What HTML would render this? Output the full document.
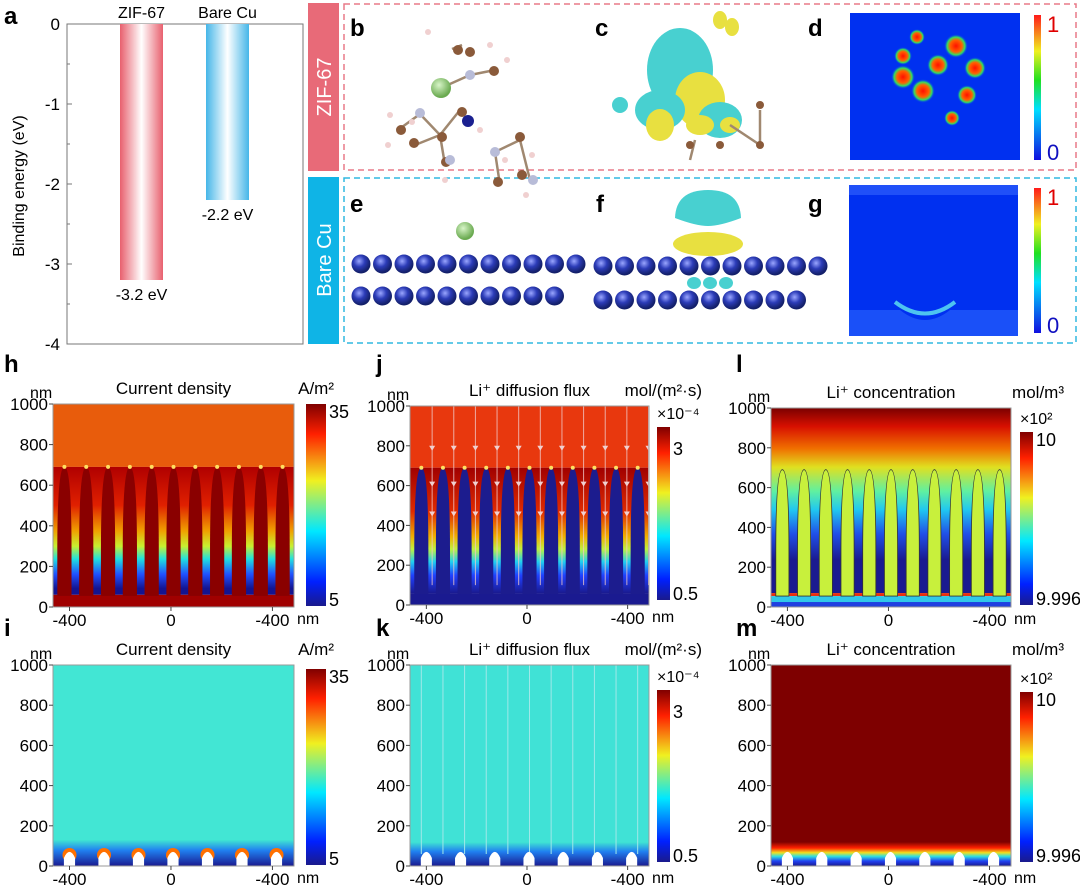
<!DOCTYPE html>
<html><head><meta charset="utf-8">
<style>
body{margin:0;background:#fff;}
svg{display:block;font-family:"Liberation Sans",Arial,sans-serif;}
</style></head>
<body>
<svg id="fig" width="1080" height="888" viewBox="0 0 1080 888" xmlns="http://www.w3.org/2000/svg">
<defs>
<linearGradient id="gRed" x1="0" x2="1" y1="0" y2="0"><stop offset="0" stop-color="#e8606e"/><stop offset="0.5" stop-color="#ffffff"/><stop offset="1" stop-color="#e8606e"/></linearGradient>
<linearGradient id="gBlue" x1="0" x2="1" y1="0" y2="0"><stop offset="0" stop-color="#45b6e8"/><stop offset="0.5" stop-color="#ffffff"/><stop offset="1" stop-color="#45b6e8"/></linearGradient>
<linearGradient id="jet" x1="0" x2="0" y1="1" y2="0"><stop offset="0" stop-color="#1a1a8c"/><stop offset="0.12" stop-color="#0020ff"/><stop offset="0.37" stop-color="#00e8ff"/><stop offset="0.62" stop-color="#f0f020"/><stop offset="0.85" stop-color="#ff2000"/><stop offset="1" stop-color="#800000"/></linearGradient>
<linearGradient id="jetd" x1="0" x2="0" y1="1" y2="0"><stop offset="0" stop-color="#1010e0"/><stop offset="0.35" stop-color="#00e0ff"/><stop offset="0.55" stop-color="#20e020"/><stop offset="0.75" stop-color="#f0f020"/><stop offset="1" stop-color="#ff1a1a"/></linearGradient>
<linearGradient id="hG" x1="0" x2="0" y1="0" y2="1"><stop offset="0" stop-color="#b00000"/><stop offset="0.3" stop-color="#e02000"/><stop offset="0.5" stop-color="#f0a000"/><stop offset="0.62" stop-color="#c8f030"/><stop offset="0.72" stop-color="#20e0e0"/><stop offset="0.84" stop-color="#2050ff"/><stop offset="0.95" stop-color="#141490"/><stop offset="1" stop-color="#141490"/></linearGradient>
<linearGradient id="jG" x1="0" x2="0" y1="0" y2="1"><stop offset="0" stop-color="#a00000"/><stop offset="0.35" stop-color="#e02a00"/><stop offset="0.55" stop-color="#f0b000"/><stop offset="0.65" stop-color="#c0f040"/><stop offset="0.75" stop-color="#20d0f0"/><stop offset="0.86" stop-color="#2040ff"/><stop offset="1" stop-color="#1a1a90"/></linearGradient>
<linearGradient id="lG" x1="0" x2="0" y1="0" y2="1"><stop offset="0" stop-color="#7a0000"/><stop offset="0.1" stop-color="#d81000"/><stop offset="0.22" stop-color="#f07000"/><stop offset="0.32" stop-color="#e0e020"/><stop offset="0.45" stop-color="#60f0a0"/><stop offset="0.55" stop-color="#20c8f0"/><stop offset="0.68" stop-color="#2050e8"/><stop offset="0.82" stop-color="#1a1a90"/><stop offset="1" stop-color="#1a1a90"/></linearGradient>
<linearGradient id="iG" x1="0" x2="0" y1="0" y2="1"><stop offset="0" stop-color="#40e6d2"/><stop offset="0.4" stop-color="#2080f0"/><stop offset="1" stop-color="#1a1a90"/></linearGradient>
<linearGradient id="mG" x1="0" x2="0" y1="0" y2="1"><stop offset="0" stop-color="#7a0000"/><stop offset="0.25" stop-color="#ff2000"/><stop offset="0.45" stop-color="#f0e020"/><stop offset="0.6" stop-color="#30e0e0"/><stop offset="0.8" stop-color="#2040f0"/><stop offset="1" stop-color="#1a1a90"/></linearGradient>
<radialGradient id="ball" cx="0.4" cy="0.35" r="0.6"><stop offset="0" stop-color="#9aa6ff"/><stop offset="0.5" stop-color="#2c3cb8"/><stop offset="1" stop-color="#14206a"/></radialGradient>
<radialGradient id="liB" cx="0.4" cy="0.35" r="0.6"><stop offset="0" stop-color="#d8f5c8"/><stop offset="1" stop-color="#6aaa50"/></radialGradient>
<radialGradient id="hot" cx="0.5" cy="0.5" r="0.5"><stop offset="0" stop-color="#ff1000"/><stop offset="0.5" stop-color="#ff6000"/><stop offset="0.75" stop-color="#30e060"/><stop offset="1" stop-color="#0030ff" stop-opacity="0"/></radialGradient>
</defs>

<g id="panelA">
<text x="4" y="24" font-size="24" font-weight="bold">a</text>
<rect x="67" y="24" width="236" height="320" fill="none" stroke="#777" stroke-width="1"/>
<text transform="translate(24,186) rotate(-90)" text-anchor="middle" font-size="16">Binding energy (eV)</text>
</g>

<rect x="308" y="3" width="31" height="168" fill="#e86a78"/>
<text transform="translate(331,87) rotate(-90)" text-anchor="middle" font-size="20" fill="#fff">ZIF-67</text>
<rect x="308" y="177" width="31" height="167" fill="#0fb4e6"/>
<text transform="translate(331,260) rotate(-90)" text-anchor="middle" font-size="20" fill="#fff">Bare Cu</text>
<rect x="344" y="4" width="732" height="166" fill="none" stroke="#e87a88" stroke-width="1.5" stroke-dasharray="6,4"/>
<rect x="344" y="178" width="732" height="165" fill="none" stroke="#30b8e0" stroke-width="1.5" stroke-dasharray="6,4"/>

<g>
<text x="350" y="36" font-size="24" font-weight="bold">b</text>
<g stroke="#a08870" stroke-width="2.5">
<line x1="441" y1="88" x2="470" y2="75"/><line x1="470" y1="75" x2="495" y2="70"/><line x1="420" y1="114" x2="398" y2="130"/><line x1="420" y1="114" x2="440" y2="135"/><line x1="440" y1="135" x2="460" y2="110"/><line x1="440" y1="135" x2="445" y2="165"/><line x1="495" y1="152" x2="520" y2="140"/><line x1="495" y1="152" x2="500" y2="185"/><line x1="520" y1="140" x2="530" y2="180"/><line x1="452" y1="49" x2="462" y2="45"/><line x1="440" y1="135" x2="415" y2="145"/>
</g>
<circle cx="441" cy="88" r="10" fill="url(#liB)"/>
<g fill="#8a5a3a"><circle cx="458" cy="50" r="5"/><circle cx="494" cy="71" r="5"/><circle cx="401" cy="130" r="5"/><circle cx="414" cy="143" r="5"/><circle cx="442" cy="137" r="5"/><circle cx="462" cy="112" r="5"/><circle cx="446" cy="162" r="5"/><circle cx="520" cy="137" r="5"/><circle cx="498" cy="182" r="5"/><circle cx="522" cy="175" r="5"/><circle cx="470" cy="52" r="5"/></g>
<g fill="#b8bcd8"><circle cx="470" cy="75" r="5"/><circle cx="420" cy="113" r="5"/><circle cx="495" cy="152" r="5"/><circle cx="533" cy="180" r="5"/><circle cx="450" cy="160" r="5"/></g>
<circle cx="468" cy="121" r="6" fill="#1a2090"/>
<g fill="#f0d0d0"><circle cx="428" cy="32" r="3"/><circle cx="490" cy="45" r="3"/><circle cx="507" cy="60" r="3"/><circle cx="390" cy="115" r="3"/><circle cx="388" cy="145" r="3"/><circle cx="505" cy="160" r="3"/><circle cx="445" cy="180" r="3"/><circle cx="532" cy="155" r="3"/><circle cx="526" cy="195" r="3"/><circle cx="480" cy="130" r="3"/><circle cx="412" cy="122" r="3"/></g>
</g>

<g>
<text x="595" y="36" font-size="24" font-weight="bold">c</text>
<ellipse cx="680" cy="70" rx="33" ry="42" fill="#48d0d0"/>
<ellipse cx="700" cy="100" rx="25" ry="28" fill="#e8e040"/>
<ellipse cx="660" cy="110" rx="25" ry="20" fill="#48d0d0"/>
<ellipse cx="720" cy="120" rx="22" ry="18" fill="#48d0d0"/>
<ellipse cx="720" cy="20" rx="7" ry="9" fill="#e8e040"/>
<ellipse cx="732" cy="27" rx="7" ry="9" fill="#e8e040"/>
<ellipse cx="660" cy="125" rx="14" ry="16" fill="#e8e040"/>
<ellipse cx="700" cy="125" rx="14" ry="10" fill="#e8e040"/>
<ellipse cx="730" cy="125" rx="10" ry="8" fill="#e8e040"/>
<ellipse cx="620" cy="105" rx="8" ry="8" fill="#48d0d0"/>
<g stroke="#a08870" stroke-width="2.5"><line x1="730" y1="125" x2="760" y2="145"/><line x1="760" y1="145" x2="760" y2="110"/><line x1="695" y1="140" x2="690" y2="160"/></g>
<g fill="#8a5a3a"><circle cx="760" cy="145" r="4"/><circle cx="760" cy="105" r="4"/><circle cx="690" cy="145" r="4"/><circle cx="720" cy="145" r="4"/></g>
</g>

<g>
<text x="808" y="36" font-size="24" font-weight="bold">d</text>
<rect x="850" y="13" width="170" height="147" fill="#0030f0"/>
<g fill="url(#hot)"><circle cx="917" cy="37" r="8"/><circle cx="956" cy="46" r="12"/><circle cx="903" cy="56" r="9"/><circle cx="938" cy="65" r="11"/><circle cx="975" cy="68" r="11"/><circle cx="903" cy="77" r="12"/><circle cx="923" cy="91" r="12"/><circle cx="967" cy="95" r="10"/><circle cx="952" cy="118" r="8"/></g>
<rect x="1034" y="15" width="7" height="145" fill="url(#jetd)"/>
<text x="1047" y="32" font-size="22" fill="#e00000">1</text>
<text x="1047" y="160" font-size="22" fill="#1010c0">0</text>
</g>

<g>
<text x="350" y="212" font-size="24" font-weight="bold">e</text>
<circle cx="465" cy="231" r="9" fill="url(#liB)"/>
<g id="eRows"></g>
</g>
<g>
<text x="596" y="212" font-size="24" font-weight="bold">f</text>
<path d="M675,218 Q676,190 708,190 Q740,190 741,218 Q720,226 708,226 Q696,226 675,218Z" fill="#48d0d0"/>
<ellipse cx="708" cy="244" rx="35" ry="12" fill="#e8e040"/>
<g id="fRows"></g>
<g fill="#48d0d0"><ellipse cx="694" cy="283" rx="7" ry="6"/><ellipse cx="710" cy="283" rx="7" ry="6"/><ellipse cx="726" cy="283" rx="7" ry="6"/></g>
</g>
<g>
<text x="808" y="212" font-size="24" font-weight="bold">g</text>
<rect x="849" y="185" width="169" height="151" fill="#0030f0"/>
<rect x="849" y="185" width="169" height="10" fill="#2050f8"/>
<path d="M849,310 L900,310 Q925,330 950,310 L1018,310 L1018,336 L849,336Z" fill="#1a50f8"/>
<path d="M895,302 Q925,325 955,302" fill="none" stroke="#60e8f0" stroke-width="4" opacity="0.8"/>
<rect x="1034" y="188" width="7" height="145" fill="url(#jetd)"/>
<text x="1047" y="205" font-size="22" fill="#e00000">1</text>
<text x="1047" y="333" font-size="22" fill="#1010c0">0</text>
</g>

<g id="heatmaps"></g>
</svg>

<script>
const barCategories = ["ZIF-67", "Bare Cu"];
const barValues = [-3.2, -2.2];
const barLabels = ["-3.2 eV", "-2.2 eV"];
const yTicksA = [0, -1, -2, -3, -4];

const xTickValues = [-400, 0, 400];
const xTickLabels = ["-400", "0", "-400"];
const yTickValues = [0, 200, 400, 600, 800, 1000];
const pillarCentersTop = [-420, -334, -248, -162, -76, 10, 96, 182, 268, 354, 440];
const pillarHeightTop = 690;
const bumpCentersBottom = [-400, -264, -128, 8, 144, 280, 416];
const cbLabelsH = ["35", "5"];
const cbLabelsJ = ["3", "0.5"];
const cbLabelsL = ["10", "9.996"];

const NS = "http://www.w3.org/2000/svg";
const svg = document.getElementById("fig");
function mk(tag, attrs, parent) {
  const e = document.createElementNS(NS, tag);
  for (const k in attrs) e.setAttribute(k, attrs[k]);
  (parent || svg).appendChild(e);
  return e;
}
function txt(x, y, s, size, anchor, parent, extra) {
  const t = mk("text", Object.assign({x: x, y: y, "font-size": size, "text-anchor": anchor || "start"}, extra || {}), parent);
  t.textContent = s;
  return t;
}

(function () {
  const g = document.getElementById("panelA");
  const top = 24, bot = 344, ymin = -4, ymax = 0;
  const yS = v => top + (ymax - v) / (ymax - ymin) * (bot - top);
  const barX = [120, 206], barW = 43;
  yTicksA.forEach(v => {
    const t = txt(60, yS(v) + 6, String(v), 17, "end", g);
    
    
    mk("line", {x1: 67, x2: 72, y1: yS(v), y2: yS(v), stroke: "#777"}, g);
    if (v > ymin) mk("line", {x1: 67, x2: 70, y1: yS(v - 0.5), y2: yS(v - 0.5), stroke: "#777"}, g);
  });
  barValues.forEach((v, i) => {
    const r = mk("rect", {x: barX[i], y: yS(0), width: barW, height: yS(v) - yS(0), fill: i === 0 ? "url(#gRed)" : "url(#gBlue)"}, g);
    
    
    const c = txt(barX[i] + barW / 2, 18, barCategories[i], 16, "middle", g);
    
    
    const l = txt(barX[i] + barW / 2, yS(v) + 20, barLabels[i], 16, "middle", g);
    
    
  });
})();

(function () {
  const e = document.getElementById("eRows"), f = document.getElementById("fRows");
  for (let i = 0; i < 11; i++) mk("circle", {cx: 361 + i * 21.5, cy: 264, r: 9.5, fill: "url(#ball)"}, e);
  for (let i = 0; i < 10; i++) mk("circle", {cx: 361 + i * 21.5, cy: 296, r: 9.5, fill: "url(#ball)"}, e);
  for (let i = 0; i < 11; i++) mk("circle", {cx: 603 + i * 21.5, cy: 266, r: 9.5, fill: "url(#ball)"}, f);
  for (let i = 0; i < 10; i++) mk("circle", {cx: 603 + i * 21.5, cy: 300, r: 9.5, fill: "url(#ball)"}, f);
})();

const hm = document.getElementById("heatmaps");
function panel(cfg) {
  const g = mk("g", {}, hm);
  
  
  const xS = v => cfg.x0 + (v + 465) / 950 * (cfg.x1 - cfg.x0);
  const yS = v => cfg.yb - v / 1000 * (cfg.yb - cfg.yt);
  const W = cfg.x1 - cfg.x0;
  const cp = "cp" + cfg.id;
  const clip = mk("clipPath", {id: cp}, g);
  mk("rect", {x: cfg.x0, y: cfg.yt, width: W, height: cfg.yb - cfg.yt}, clip);
  const body = mk("g", {"clip-path": "url(#" + cp + ")"}, g);
  cfg.draw(body, xS, yS, W);
  mk("rect", {x: cfg.x0, y: cfg.yt, width: W, height: cfg.yb - cfg.yt, fill: "none", stroke: "#999", "stroke-width": 1}, g);
  yTickValues.forEach(v => {
    const t = txt(cfg.x0 - 5, yS(v) + 6, String(v), 17, "end", g);
    
    
    mk("line", {x1: cfg.x0 - 4, x2: cfg.x0, y1: yS(v), y2: yS(v), stroke: "#444"}, g);
  });
  xTickValues.forEach((v, i) => {
    const t = txt(xS(v), cfg.yb + 19, xTickLabels[i], 17, "middle", g);
    
    
    mk("line", {x1: xS(v), x2: xS(v), y1: cfg.yb, y2: cfg.yb + 4, stroke: "#444"}, g);
  });
  txt(cfg.x1 + 3, cfg.yb + 17, "nm", 16, "start", g);
  txt(cfg.x0 - 23, cfg.yt - 6, "nm", 16, "start", g);
  const ti = txt((cfg.x0 + cfg.x1) / 2, cfg.yt - 10, cfg.title, 17, "middle", g);
  
  
  const u = txt(cfg.unitX, cfg.yt - 10, cfg.unit, 17, "end", g);
  
  
  if (cfg.mult) txt(cfg.cbx, cfg.cby - 8, cfg.mult, 16, "start", g);
  const lt = txt(cfg.lx, cfg.ly, cfg.letter, 24, "start", g, {"font-weight": "bold"});
  
  
  const cb = mk("rect", {x: cfg.cbx, y: cfg.cby, width: cfg.cbw, height: cfg.cbh, fill: "url(#jet)"}, g);
  
  
  const mx = txt(cfg.cbx + cfg.cbw + 3, cfg.cby + cfg.maxOff, cfg.cbl[0], 18, "start", g);
  
  
  const mn = txt(cfg.cbx + cfg.cbw + 3, cfg.cby + cfg.cbh, cfg.cbl[1], 18, "start", g);
  
  
}
function pillarPath(xS, yS, c, h, hw) {
  const xl = xS(c - hw), xr = xS(c + hw), xm = xS(c);
  const yt = yS(h), yb = yS(55), ym = yS(h * 0.4);
  return "M" + xl + "," + yb + " L" + xl + "," + ym + " Q" + xl + "," + yt + " " + xm + "," + yt + " Q" + xr + "," + yt + " " + xr + "," + ym + " L" + xr + "," + yb + "Z";
}
function bumpPath(xS, yS, c) {
  const xl = xS(c - 22), xr = xS(c + 22);
  return "M" + xl + "," + yS(0) + " L" + xl + "," + yS(40) + " Q" + xS(c) + "," + yS(100) + " " + xr + "," + yS(40) + " L" + xr + "," + yS(0) + "Z";
}

panel({id: "h", name: "current-density-zif67", letter: "h", lx: 4, ly: 372, x0: 53, x1: 294, yt: 404, yb: 607,
  title: "Current density", unit: "A/m\u00B2", unitX: 334, cbx: 306, cby: 404, cbw: 20, cbh: 202, cbl: cbLabelsH, maxOff: 14,
  draw: (b, xS, yS, W) => {
    mk("rect", {x: 53, y: yS(1000), width: W, height: yS(pillarHeightTop) - yS(1000), fill: "#e85c0c"}, b);
    mk("rect", {x: 53, y: yS(pillarHeightTop), width: W, height: yS(60) - yS(pillarHeightTop), fill: "url(#hG)"}, b);
    mk("rect", {x: 53, y: yS(60), width: W, height: yS(0) - yS(60), fill: "#a00000"}, b);
    pillarCentersTop.forEach(c => {
      const p = mk("path", {d: pillarPath(xS, yS, c, pillarHeightTop, 28), fill: "#8a0000"}, b);
      
      
      mk("circle", {cx: xS(c), cy: yS(pillarHeightTop), r: 2, fill: "#ffe060"}, b);
    });
  }});
panel({id: "j", name: "diffusion-flux-zif67", letter: "j", lx: 376, ly: 372, x0: 410, x1: 649, yt: 406, yb: 605,
  title: "Li\u207A diffusion flux", unit: "mol/(m\u00B2\u00B7s)", unitX: 702, cbx: 657, cby: 427, cbw: 13, cbh: 173, cbl: cbLabelsJ, mult: "\u00D710\u207B\u2074", maxOff: 28,
  draw: (b, xS, yS, W) => {
    mk("rect", {x: 410, y: yS(1000), width: W, height: yS(pillarHeightTop) - yS(1000), fill: "#e8380e"}, b);
    mk("rect", {x: 410, y: yS(pillarHeightTop), width: W, height: yS(60) - yS(pillarHeightTop), fill: "url(#jG)"}, b);
    mk("rect", {x: 410, y: yS(60), width: W, height: yS(0) - yS(60), fill: "#1a1a90"}, b);
    pillarCentersTop.forEach(c => {
      const p = mk("path", {d: pillarPath(xS, yS, c, pillarHeightTop, 28), fill: "#1c1c8e"}, b);
      
      
      mk("circle", {cx: xS(c), cy: yS(pillarHeightTop), r: 2, fill: "#ffe060"}, b);
    });
    pillarCentersTop.forEach(c => {
      const x = xS(c + 43);
      mk("line", {x1: x, x2: x, y1: yS(1000), y2: yS(100), stroke: "#f0c8c8", "stroke-width": 1, opacity: 0.8}, b);
      [800, 620, 470].forEach(yy => mk("path", {d: "M" + (x - 3) + "," + yS(yy) + " L" + (x + 3) + "," + yS(yy) + " L" + x + "," + (yS(yy) + 5) + "Z", fill: "#f0d0d0"}, b));
    });
  }});
panel({id: "l", name: "concentration-zif67", letter: "l", lx: 736, ly: 372, x0: 771, x1: 1011, yt: 408, yb: 607,
  title: "Li\u207A concentration", unit: "mol/m\u00B3", unitX: 1064, cbx: 1020, cby: 432, cbw: 13, cbh: 173, cbl: cbLabelsL, mult: "\u00D710\u00B2", maxOff: 14,
  draw: (b, xS, yS, W) => {
    mk("rect", {x: 771, y: yS(1000), width: W, height: yS(70) - yS(1000), fill: "url(#lG)"}, b);
    mk("rect", {x: 771, y: yS(70), width: W, height: 3, fill: "#e83010"}, b);
    mk("rect", {x: 771, y: yS(70) + 3, width: W, height: yS(0) - yS(70) - 3, fill: "#30c8e8"}, b);
    mk("rect", {x: 771, y: yS(25), width: W, height: yS(0) - yS(25), fill: "#2040e0"}, b);
    pillarCentersTop.forEach(c => {
      const p = mk("path", {d: pillarPath(xS, yS, c, pillarHeightTop, 26), fill: "#c8f03c", stroke: "#333", "stroke-width": 0.8}, b);
      
      
    });
  }});
panel({id: "i", name: "current-density-barecu", letter: "i", lx: 4, ly: 636, x0: 53, x1: 294, yt: 665, yb: 866,
  title: "Current density", unit: "A/m\u00B2", unitX: 334, cbx: 306, cby: 669, cbw: 20, cbh: 196, cbl: cbLabelsH, maxOff: 14,
  draw: (b, xS, yS, W) => {
    mk("rect", {x: 53, y: yS(1000), width: W, height: yS(0) - yS(1000), fill: "#42e6d4"}, b);
    mk("rect", {x: 53, y: yS(130), width: W, height: yS(0) - yS(130), fill: "url(#iG)"}, b);
    bumpCentersBottom.forEach(c => {
      mk("circle", {cx: xS(c), cy: yS(55), r: 7, fill: "#ff7000"}, b);
      const p = mk("path", {d: bumpPath(xS, yS, c), fill: "#fff"}, b);
      
      
    });
  }});
panel({id: "k", name: "diffusion-flux-barecu", letter: "k", lx: 376, ly: 636, x0: 410, x1: 649, yt: 665, yb: 866,
  title: "Li\u207A diffusion flux", unit: "mol/(m\u00B2\u00B7s)", unitX: 702, cbx: 657, cby: 690, cbw: 13, cbh: 172, cbl: cbLabelsJ, mult: "\u00D710\u207B\u2074", maxOff: 28,
  draw: (b, xS, yS, W) => {
    mk("rect", {x: 410, y: yS(1000), width: W, height: yS(0) - yS(1000), fill: "#40e2d6"}, b);
    mk("rect", {x: 410, y: yS(120), width: W, height: yS(0) - yS(120), fill: "url(#iG)"}, b);
    pillarCentersTop.forEach(c => {
      const x = xS(c);
      mk("line", {x1: x, x2: x, y1: yS(1000), y2: yS(60), stroke: "#a0e8e8", "stroke-width": 1}, b);
    });
    bumpCentersBottom.forEach(c => {
      const p = mk("path", {d: bumpPath(xS, yS, c), fill: "#fff"}, b);
      
      
    });
  }});
panel({id: "m", name: "concentration-barecu", letter: "m", lx: 736, ly: 636, x0: 771, x1: 1011, yt: 665, yb: 866,
  title: "Li\u207A concentration", unit: "mol/m\u00B3", unitX: 1064, cbx: 1020, cby: 692, cbw: 13, cbh: 170, cbl: cbLabelsL, mult: "\u00D710\u00B2", maxOff: 14,
  draw: (b, xS, yS, W) => {
    mk("rect", {x: 771, y: yS(1000), width: W, height: yS(0) - yS(1000), fill: "#7e0000"}, b);
    mk("rect", {x: 771, y: yS(120), width: W, height: yS(0) - yS(120), fill: "url(#mG)"}, b);
    bumpCentersBottom.forEach(c => {
      const p = mk("path", {d: bumpPath(xS, yS, c), fill: "#fff"}, b);
      
      
    });
  }});
</script>
</body></html>
